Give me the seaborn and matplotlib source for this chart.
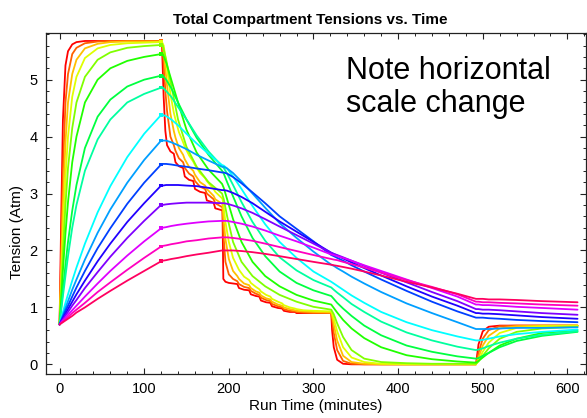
import matplotlib
matplotlib.use("Agg")
import matplotlib.pyplot as plt
from matplotlib.ticker import MultipleLocator
import seaborn as sns
import pandas as pd

# Run time (minutes) at which the slower compartments are sampled
times = [0, 2, 4, 7, 10, 15, 20, 30, 45, 60, 80, 100, 120,
         122, 126, 132, 140, 150, 162, 176, 192,
         194, 198, 205, 215, 228, 243, 260, 280, 300, 321,
         324, 328, 335, 345, 360, 380, 410, 440, 470, 492,
         495, 500, 507, 520, 540, 570, 612]

# Finer sampling for the four fastest compartments (decompression stop steps)
times_fast = [0, 2, 4, 7, 10, 15, 20, 30, 45, 60, 80, 100, 120,
              121, 123, 125, 127, 131, 135, 137, 141, 146, 148, 153, 158, 160,
              166, 172, 174, 182, 184, 191, 192.5,
              193.5, 196, 200, 205, 210, 212, 218, 224, 226, 232, 236, 238,
              244, 249, 251, 258, 263, 265, 272, 278, 280, 288, 300, 321,
              322, 324, 328, 335, 345, 360, 380, 410, 440, 470, 492,
              495, 500, 507, 520, 540, 570, 612]

# Total inert gas tension (Atm) of each tissue compartment, fastest first
c01 = [0.7, 2.6, 4.3, 5.25, 5.5, 5.62, 5.66, 5.68, 5.68, 5.68, 5.68, 5.68, 5.68,
       5.62, 4.7, 4.1, 3.85, 3.74, 3.7, 3.55, 3.48, 3.45, 3.3, 3.24, 3.22, 3.08,
       3.03, 3.01, 2.88, 2.84, 2.74, 2.71, 2.7,
       1.5, 1.45, 1.43, 1.42, 1.41, 1.34, 1.31, 1.30, 1.23, 1.2, 1.19, 1.12,
       1.09, 1.08, 1.02, 0.99, 0.98, 0.94, 0.92, 0.92, 0.9, 0.9, 0.9, 0.9,
       0.6, 0.3, 0.08, 0.01, 0, 0, 0, 0, 0, 0, 0,
       0.35, 0.58, 0.66, 0.68, 0.68, 0.68, 0.68]
c02 = [0.7, 2.0, 3.4, 4.6, 5.1, 5.45, 5.56, 5.64, 5.67, 5.68, 5.68, 5.68, 5.68,
       5.66, 5.3, 4.8, 4.45, 4.0, 3.85, 3.75, 3.62, 3.55, 3.45, 3.35, 3.3, 3.22,
       3.12, 3.08, 3.0, 2.9, 2.83, 2.77, 2.76,
       2.3, 1.8, 1.58, 1.5, 1.46, 1.41, 1.36, 1.34, 1.29, 1.24, 1.22, 1.17,
       1.13, 1.11, 1.06, 1.02, 1.0, 0.97, 0.94, 0.93, 0.92, 0.91, 0.9, 0.9,
       0.8, 0.55, 0.25, 0.06, 0.01, 0, 0, 0, 0, 0, 0,
       0.2, 0.45, 0.6, 0.67, 0.68, 0.68, 0.68]
c03 = [0.7, 1.7, 2.8, 3.9, 4.6, 5.1, 5.35, 5.55, 5.63, 5.66, 5.67, 5.67, 5.67,
       5.67, 5.5, 5.2, 4.9, 4.4, 4.1, 3.98, 3.8, 3.68, 3.6, 3.47, 3.4, 3.33,
       3.2, 3.14, 3.08, 2.96, 2.9, 2.83, 2.82,
       2.6, 2.2, 1.85, 1.64, 1.55, 1.5, 1.42, 1.39, 1.34, 1.28, 1.26, 1.21,
       1.16, 1.14, 1.1, 1.05, 1.03, 1.0, 0.97, 0.95, 0.94, 0.93, 0.92, 0.91,
       0.86, 0.7, 0.42, 0.15, 0.04, 0.01, 0, 0, 0, 0, 0,
       0.12, 0.33, 0.5, 0.63, 0.67, 0.68, 0.68]
c04 = [0.7, 1.45, 2.3, 3.3, 4.0, 4.7, 5.05, 5.38, 5.55, 5.61, 5.64, 5.65, 5.66,
       5.66, 5.6, 5.4, 5.2, 4.75, 4.42, 4.3, 4.08, 3.9, 3.82, 3.67, 3.56, 3.5,
       3.36, 3.27, 3.22, 3.08, 3.03, 2.93, 2.91,
       2.8, 2.5, 2.15, 1.87, 1.72, 1.66, 1.54, 1.48, 1.43, 1.36, 1.32, 1.28,
       1.22, 1.19, 1.15, 1.1, 1.07, 1.04, 1.0, 0.98, 0.97, 0.95, 0.94, 0.93,
       0.9, 0.8, 0.58, 0.3, 0.12, 0.04, 0.01, 0, 0, 0, 0,
       0.07, 0.22, 0.38, 0.55, 0.64, 0.67, 0.68]
c05 = [0.7, 1.3, 1.95, 2.8, 3.45, 4.15, 4.6, 5.05, 5.35, 5.48, 5.56, 5.59, 5.61,
       5.6, 5.35, 4.9, 4.3, 3.82, 3.47, 3.2, 3.0,
       2.9, 2.6, 2.15, 1.8, 1.55, 1.37, 1.22, 1.1, 1.01, 0.96,
       0.88, 0.72, 0.48, 0.25, 0.1, 0.04, 0.02, 0.01, 0.01, 0.01,
       0.05, 0.15, 0.28, 0.45, 0.57, 0.63, 0.66]
c06 = [0.7, 1.15, 1.65, 2.3, 2.85, 3.55, 4.0, 4.6, 5.0, 5.2, 5.33, 5.4, 5.45,
       5.45, 5.3, 5.0, 4.6, 4.12, 3.72, 3.42, 3.17,
       3.1, 2.9, 2.55, 2.15, 1.8, 1.55, 1.37, 1.22, 1.12, 1.05,
       0.99, 0.91, 0.78, 0.63, 0.46, 0.30, 0.16, 0.09, 0.05, 0.03,
       0.06, 0.12, 0.2, 0.33, 0.45, 0.55, 0.6]
c07 = [0.7, 1.0, 1.3, 1.75, 2.15, 2.7, 3.15, 3.8, 4.35, 4.65, 4.88, 5.0, 5.07,
       5.07, 5.0, 4.85, 4.6, 4.3, 3.98, 3.68, 3.4,
       3.35, 3.2, 2.95, 2.6, 2.22, 1.9, 1.63, 1.43, 1.3, 1.2,
       1.15, 1.08, 0.98, 0.85, 0.68, 0.51, 0.33, 0.22, 0.14, 0.10,
       0.11, 0.15, 0.2, 0.3, 0.41, 0.5, 0.57]
c08 = [0.7, 0.95, 1.2, 1.55, 1.9, 2.4, 2.8, 3.4, 3.95, 4.3, 4.6, 4.75, 4.86,
       4.86, 4.8, 4.7, 4.52, 4.3, 4.02, 3.74, 3.48,
       3.45, 3.35, 3.15, 2.85, 2.5, 2.17, 1.88, 1.65, 1.48, 1.35,
       1.31, 1.26, 1.18, 1.06, 0.92, 0.75, 0.56, 0.42, 0.31, 0.25,
       0.26, 0.28, 0.32, 0.38, 0.45, 0.52, 0.58]
c09 = [0.7, 0.81, 0.92, 1.08, 1.23, 1.47, 1.70, 2.12, 2.67, 3.13, 3.64, 4.05, 4.38,
       4.38, 4.36, 4.3, 4.2, 4.05, 3.88, 3.7, 3.5,
       3.49, 3.44, 3.3, 3.08, 2.78, 2.46, 2.15, 1.87, 1.63, 1.45,
       1.42, 1.38, 1.31, 1.21, 1.08, 0.92, 0.74, 0.6, 0.49, 0.42,
       0.42, 0.43, 0.45, 0.49, 0.53, 0.57, 0.61]
c10 = [0.7, 0.79, 0.87, 0.99, 1.11, 1.31, 1.49, 1.84, 2.31, 2.72, 3.19, 3.59, 3.93,
       3.93, 3.93, 3.9, 3.85, 3.78, 3.68, 3.58, 3.47,
       3.47, 3.44, 3.36, 3.21, 3.0, 2.75, 2.48, 2.22, 1.98, 1.75,
       1.73, 1.69, 1.63, 1.54, 1.42, 1.27, 1.07, 0.9, 0.74, 0.62,
       0.62, 0.62, 0.62, 0.63, 0.64, 0.64, 0.65]
c11 = [0.7, 0.77, 0.84, 0.94, 1.03, 1.19, 1.35, 1.64, 2.04, 2.39, 2.82, 3.19, 3.51,
       3.52, 3.52, 3.51, 3.49, 3.47, 3.44, 3.41, 3.37,
       3.37, 3.35, 3.29, 3.18, 3.02, 2.83, 2.6, 2.38, 2.16, 1.92,
       1.90, 1.87, 1.82, 1.74, 1.63, 1.49, 1.29, 1.1, 0.93, 0.82,
       0.82, 0.82, 0.81, 0.8, 0.78, 0.76, 0.74]
c12 = [0.7, 0.76, 0.81, 0.89, 0.97, 1.10, 1.23, 1.47, 1.81, 2.12, 2.50, 2.83, 3.14,
       3.14, 3.15, 3.15, 3.15, 3.14, 3.13, 3.1, 3.06,
       3.06, 3.05, 3.01, 2.94, 2.83, 2.68, 2.51, 2.33, 2.15, 1.96,
       1.94, 1.91, 1.86, 1.79, 1.69, 1.56, 1.37, 1.19, 1.03, 0.9,
       0.9, 0.89, 0.89, 0.88, 0.86, 0.83, 0.8]
c13 = [0.7, 0.75, 0.79, 0.86, 0.92, 1.03, 1.13, 1.34, 1.62, 1.89, 2.22, 2.52, 2.80,
       2.80, 2.81, 2.82, 2.83, 2.84, 2.84, 2.84, 2.83,
       2.83, 2.82, 2.79, 2.74, 2.66, 2.55, 2.42, 2.27, 2.12, 1.96,
       1.94, 1.92, 1.88, 1.82, 1.73, 1.61, 1.44, 1.27, 1.11, 0.97,
       0.97, 0.96, 0.96, 0.95, 0.93, 0.9, 0.87]
c14 = [0.7, 0.73, 0.77, 0.82, 0.87, 0.95, 1.03, 1.19, 1.42, 1.64, 1.91, 2.16, 2.39,
       2.40, 2.41, 2.43, 2.45, 2.47, 2.49, 2.51, 2.52,
       2.52, 2.52, 2.5, 2.47, 2.42, 2.35, 2.26, 2.16, 2.05, 1.93,
       1.92, 1.9, 1.87, 1.82, 1.74, 1.64, 1.49, 1.34, 1.19, 1.05,
       1.05, 1.04, 1.04, 1.03, 1.01, 0.99, 0.96]
c15 = [0.7, 0.73, 0.75, 0.79, 0.83, 0.90, 0.96, 1.08, 1.27, 1.44, 1.66, 1.87, 2.07,
       2.08, 2.09, 2.11, 2.13, 2.16, 2.18, 2.21, 2.23,
       2.23, 2.23, 2.22, 2.2, 2.17, 2.12, 2.06, 1.99, 1.92, 1.85,
       1.84, 1.83, 1.8, 1.76, 1.7, 1.61, 1.48, 1.36, 1.23, 1.1,
       1.1, 1.09, 1.09, 1.08, 1.07, 1.05, 1.03]
c16 = [0.7, 0.72, 0.74, 0.77, 0.80, 0.85, 0.91, 1.00, 1.15, 1.29, 1.47, 1.64, 1.81,
       1.82, 1.83, 1.85, 1.87, 1.90, 1.93, 1.96, 2.0,
       2.0, 2.0, 2.0, 1.99, 1.97, 1.94, 1.9, 1.85, 1.8, 1.75,
       1.74, 1.73, 1.71, 1.68, 1.63, 1.56, 1.45, 1.35, 1.24, 1.15,
       1.15, 1.15, 1.14, 1.14, 1.13, 1.11, 1.09]

fast = [c01, c02, c03, c04]
slow = [c05, c06, c07, c08, c09, c10, c11, c12, c13, c14, c15, c16]
series = [(times_fast, c) for c in fast] + [(times, c) for c in slow]
names = [f"C{i + 1}" for i in range(len(series))]

rows = []
for name, (ts, vals) in zip(names, series):
    for t, v in zip(ts, vals):
        rows.append({"time": t, "tension": v, "compartment": name})
df = pd.DataFrame(rows)

sns.set_style("ticks")
plt.rcParams["font.family"] = ["Liberation Sans", "DejaVu Sans"]
plt.rcParams["text.color"] = "black"
plt.rcParams["axes.labelcolor"] = "black"

fig = plt.figure(figsize=(5.87, 4.18), dpi=100)
W, H = 587, 418
ax = fig.add_axes([46 / W, 1 - 374 / H, 540 / W, 341 / H])

palette = sns.hls_palette(len(names), h=0.0, l=0.5, s=1.0)
sns.lineplot(data=df, x="time", y="tension", hue="compartment",
             hue_order=names, palette=palette, estimator=None, sort=False,
             linewidth=1.3, legend=False, ax=ax)

# small square marks where the bottom phase ends
bottom_end = df[df["time"] == 120]
sns.scatterplot(data=bottom_end, x="time", y="tension", hue="compartment",
                hue_order=names, palette=palette, marker="s", s=7,
                linewidth=0, legend=False, ax=ax, zorder=3)

ax.set_xlim(-16, 622)
ax.set_ylim(-0.17, 5.82)
ax.xaxis.set_major_locator(MultipleLocator(100))
ax.xaxis.set_minor_locator(MultipleLocator(20))
ax.yaxis.set_major_locator(MultipleLocator(1))
ax.yaxis.set_minor_locator(MultipleLocator(0.2))
ax.tick_params(which="both", direction="in", top=True, right=True,
               colors="#222222", labelcolor="black", labelsize=10.5)
ax.tick_params(which="major", length=4, width=0.8, pad=6)
ax.tick_params(which="minor", length=2.5, width=0.7)
for sp in ax.spines.values():
    sp.set_visible(True)
    sp.set_linewidth(0.9)
    sp.set_color("#222222")

ax.set_xlabel("Run Time (minutes)", fontsize=11, labelpad=2, color="black")
ax.set_ylabel("Tension (Atm)", fontsize=11, color="black")
ax.yaxis.set_label_coords(-0.041, 0.415)

fig.text(310 / W, 1 - 24 / H, "Total Compartment Tensions vs. Time",
         ha="center", va="baseline", fontsize=11, fontweight="bold",
         color="black")
fig.text(346 / W, 1 - 79 / H, "Note horizontal", ha="left", va="baseline",
         fontsize=22, color="black")
fig.text(346 / W, 1 - 112 / H, "scale change", ha="left", va="baseline",
         fontsize=22, color="black")

fig.savefig("out.png", dpi=100)
